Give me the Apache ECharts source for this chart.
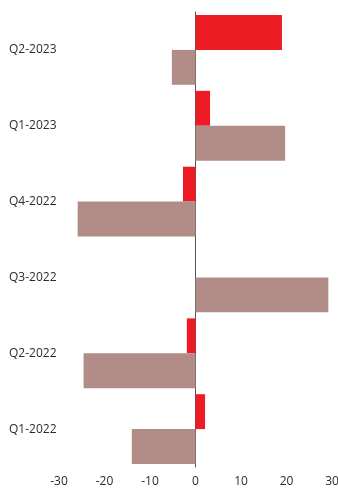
<!DOCTYPE html>
<html><head><meta charset="utf-8">
<script src="https://cdn.jsdelivr.net/npm/echarts@6/dist/echarts.min.js"></script>
<style>html,body{margin:0;padding:0;background:#fff;overflow:hidden}#c{width:338px;height:489px}</style>
</head><body><div id="c"></div>
<script>
const categories = ["Q1-2022","Q2-2022","Q3-2022","Q4-2022","Q1-2023","Q2-2023"];
const seriesBrown = [-14.0, -24.6, 29.2, -25.9, 19.7, -5.2];
const seriesRed = [2.1, -1.9, 0, -2.75, 3.2, 19.0];
const xTicks = [-30, -20, -10, 0, 10, 20, 30];

const chart = echarts.init(document.getElementById('c'));
chart.setOption({
  animation: false,
  grid: {left: 59, right: 6, top: 12, bottom: 22, containLabel: false, outerBoundsMode: 'none'},
  xAxis: {
    type: 'value', min: xTicks[0], max: xTicks[xTicks.length-1], interval: 10,
    axisLine: {show: false}, axisTick: {show: false}, splitLine: {show: false},
    axisLabel: {color: '#2b2b2b', fontFamily: 'Open Sans', fontSize: 12, margin: 9}
  },
  yAxis: {
    type: 'category', data: categories,
    axisLine: {show: true, onZero: true, lineStyle: {color: '#555', width: 1}},
    axisTick: {show: false},
    axisLabel: {color: '#2b2b2b', fontFamily: 'Open Sans', fontSize: 12, align: 'left', margin: 50}
  },
  series: [
    {type: 'bar', data: seriesRed, itemStyle: {color: '#ed1c24'}, barGap: '0%', barCategoryGap: '8%'},
    {type: 'bar', data: seriesBrown, itemStyle: {color: '#b28d88'}, barGap: '0%', barCategoryGap: '8%'}
  ]
});
</script></body></html>
